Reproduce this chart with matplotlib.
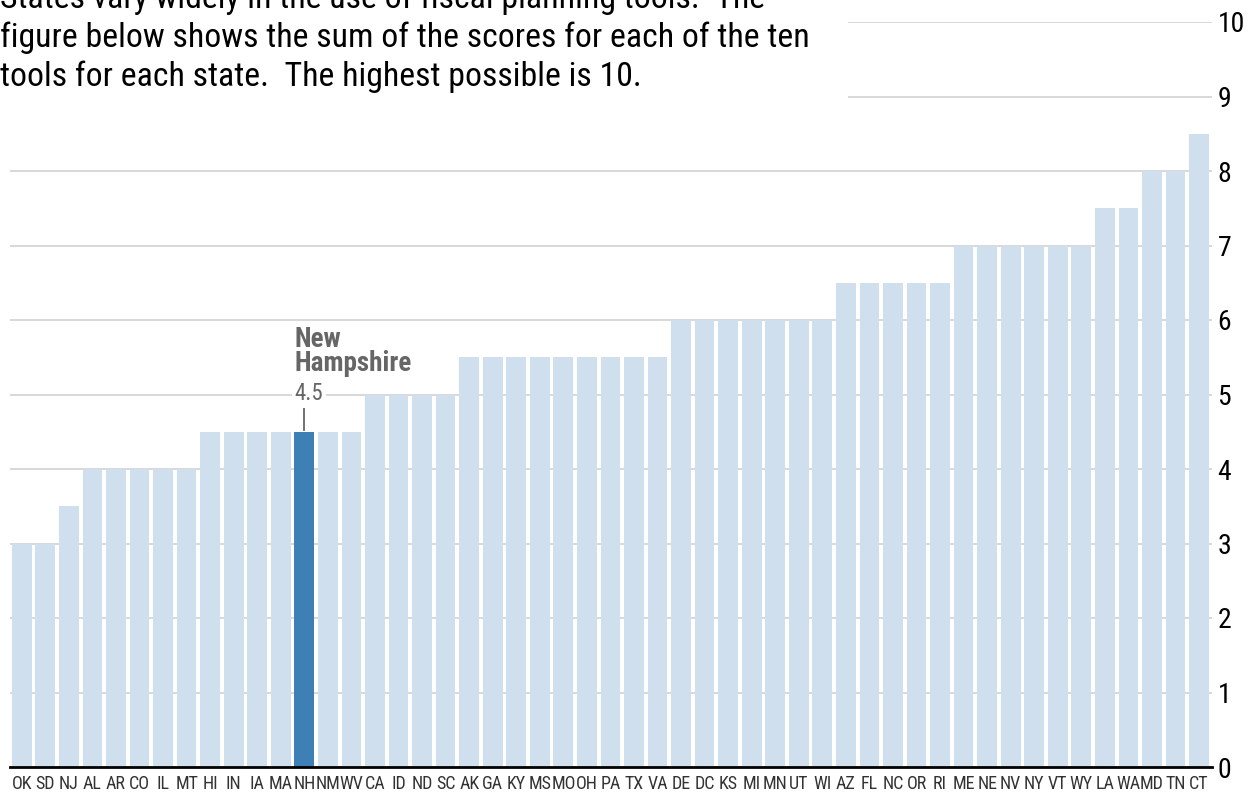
import matplotlib.pyplot as plt
from matplotlib.patches import Rectangle

states = ["OK", "SD", "NJ", "AL", "AR", "CO", "IL", "MT", "HI", "IN", "IA", "MA", "NH",
          "NM", "WV", "CA", "ID", "ND", "SC", "AK", "GA", "KY", "MS", "MO", "OH", "PA",
          "TX", "VA", "DE", "DC", "KS", "MI", "MN", "UT", "WI", "AZ", "FL", "NC", "OR",
          "RI", "ME", "NE", "NV", "NY", "VT", "WY", "LA", "WA", "MD", "TN", "CT"]
scores = [3, 3, 3.5, 4, 4, 4, 4, 4, 4.5, 4.5, 4.5, 4.5, 4.5,
          4.5, 4.5, 5, 5, 5, 5, 5.5, 5.5, 5.5, 5.5, 5.5, 5.5, 5.5,
          5.5, 5.5, 6, 6, 6, 6, 6, 6, 6, 6.5, 6.5, 6.5, 6.5,
          6.5, 7, 7, 7, 7, 7, 7, 7.5, 7.5, 8, 8, 8.5]
y_ticks = list(range(0, 11))
highlight = "NH"

intro = ["States vary widely in the use of fiscal planning tools.  The",
         "figure below shows the sum of the scores for each of the ten",
         "tools for each state.  The highest possible is 10."]

narrow = ["Roboto Condensed", "Fira Sans Condensed", "PT Sans Narrow",
          "Archivo Narrow", "Liberation Sans Narrow", "DejaVu Sans"]
W, H = 1251, 798

fig = plt.figure(figsize=(W / 100, H / 100), dpi=100)
ax = fig.add_axes([10 / W, (H - 767) / H, 1202 / W, 745 / H])

x = list(range(len(states)))
colors = ["#3e7fb6" if s == highlight else "#cfdfed" for s in states]
ax.bar(x, scores, width=0.84, color=colors, zorder=2)

ax.set_xlim(-0.5, len(states) - 0.45)
ax.set_ylim(0, 10)
ax.set_yticks(y_ticks)
ax.yaxis.tick_right()
ax.set_yticklabels([str(t) for t in y_ticks], fontsize=20, family=narrow)
ax.tick_params(axis="y", length=0, pad=4)
ax.set_xticks(x)
ax.set_xticklabels(states, fontsize=13, family=narrow, color="#333333")
ax.tick_params(axis="x", length=0, pad=6)
ax.grid(axis="y", color="#d6d6d6", linewidth=1.3, zorder=0)
for side in ["top", "left", "right"]:
    ax.spines[side].set_visible(False)
ax.spines["bottom"].set_linewidth(2)
ax.spines["bottom"].set_zorder(3)

# callout for New Hampshire
i = states.index(highlight)
val = scores[i]
ax.plot([i, i], [val + 0.02, val + 0.32], color="#666666", lw=1.3, zorder=3)
ax.text(i - 0.42, val + 0.51, f"{val}", fontsize=16.5, family=narrow, color="#666666",
        va="center", ha="left", zorder=4,
        bbox=dict(facecolor="white", edgecolor="none", pad=2))
ax.text(i - 0.42, val + 0.74, "New\nHampshire", fontsize=19.5, family=narrow,
        fontweight="bold", color="#666666", va="bottom", ha="left",
        linespacing=0.85, zorder=4)

# intro text box covering the top gridlines
fig.patches.append(Rectangle((0, 1 - 130 / H), 848 / W, 130 / H,
                             transform=fig.transFigure, facecolor="white",
                             edgecolor="none", zorder=5))
for k, line in enumerate(intro):
    fig.text(0, 1 - (8 + 39 * k) / H, line, fontsize=24.3, family=narrow,
             va="baseline", ha="left", color="black", zorder=6)

fig.savefig("out.png", dpi=100)
